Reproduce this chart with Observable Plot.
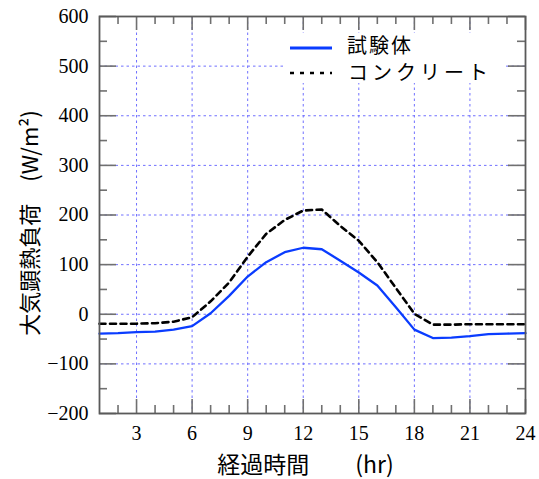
<!DOCTYPE html>
<html><head><meta charset="utf-8">
<script src="https://cdn.jsdelivr.net/npm/d3@7"></script>
<script src="https://cdn.jsdelivr.net/npm/@observablehq/plot@0.6"></script>
<style>body{margin:0;background:#fff}</style>
</head><body><div id="chart"></div>
<script>
// ---- data ----
const hours = [1,2,3,4,5,6,7,8,9,10,11,12,13,14,15,16,17,18,19,20,21,22,23,24];
const specimen = [-39,-38,-36,-35,-31,-24,2,37,76,105,125,134,131,108,84,58,14,-31,-48,-47,-44,-40,-39,-38];
const concrete = [-19,-19,-19,-18,-15,-6,26,64,116,162,190,209,211,178,148,105,53,1,-21,-21,-20,-20,-20,-20];
const seriesNames = ["試験体", "コンクリート"];
const xTicks = [3,6,9,12,15,18,21,24];
const yTicks = [-200,-100,0,100,200,300,400,500,600];
const xLabel = "経過時間　　(hr)";
const yLabel = "大気顕熱負荷　(W/m²)";

// ---- layout ----
const W = 539, H = 479, mL = 99, mR = 14, mT = 16, mB = 66;
const fw = W - mL - mR, fh = H - mT - mB;
const serif = "'Liberation Serif','DejaVu Serif',serif";
const cjk = "'Noto Sans CJK JP',sans-serif";

const specimenRows = hours.map((h, i) => ({hour: h, value: specimen[i]}));
const concreteRows = hours.map((h, i) => ({hour: h, value: concrete[i]}));
const xGrid = xTicks.slice(0, -1);
const yGrid = yTicks.slice(1, -1);
const xMinor = d3.range(2, 24).filter(h => h % 3 !== 0);
const yMinor = d3.range(-150, 600, 100);

const tickStyle = {stroke: "#707070", strokeWidth: 1.6};
const gridStyle = {stroke: "#7070ff", strokeOpacity: 1, strokeWidth: 1, strokeDasharray: "2.5,3"};

const plot = Plot.plot({
  width: W, height: H,
  marginLeft: mL, marginRight: mR, marginTop: mT, marginBottom: mB,
  style: {fontFamily: serif, background: "#fff", color: "#000"},
  x: {domain: [1, 24]},
  y: {domain: [-200, 600]},
  marks: [
    Plot.gridX(xGrid, gridStyle),
    Plot.gridY(yGrid, gridStyle),
    Plot.line(specimenRows, {x: "hour", y: "value", stroke: "#0a3cff", strokeWidth: 2.3}),
    Plot.line(concreteRows, {x: "hour", y: "value", stroke: "#000", strokeWidth: 2.6, strokeDasharray: "6,4.5"}),
    // inward ticks: left / right
    Plot.tickY(yMinor, {y: d => d, ...tickStyle, insetRight: fw - 8}),
    Plot.tickY(yTicks, {y: d => d, ...tickStyle, insetRight: fw - 17}),
    Plot.tickY(yMinor, {y: d => d, ...tickStyle, insetLeft: fw - 8}),
    Plot.tickY(yTicks, {y: d => d, ...tickStyle, insetLeft: fw - 17}),
    // inward ticks: bottom / top
    Plot.tickX(xMinor, {x: d => d, ...tickStyle, insetTop: fh - 8}),
    Plot.tickX(xTicks, {x: d => d, ...tickStyle, insetTop: fh - 14}),
    Plot.tickX(xMinor, {x: d => d, ...tickStyle, insetBottom: fh - 8}),
    Plot.tickX(xTicks, {x: d => d, ...tickStyle, insetBottom: fh - 14}),
    Plot.frame({stroke: "#5a5a5a", strokeWidth: 1.8}),
    Plot.axisY(yTicks, {tickSize: 0, tickPadding: 11, fontSize: 20, label: null}),
    Plot.axisX(xTicks, {tickSize: 0, tickPadding: 12, fontSize: 20, label: null}),
    Plot.text([yLabel], {frameAnchor: "left", textAnchor: "middle", lineAnchor: "middle", rotate: -90, dx: -69, dy: 8, fontSize: 22, fontFamily: cjk}),
    Plot.text([xLabel], {frameAnchor: "bottom", textAnchor: "middle", lineAnchor: "middle", dx: -7, dy: 52, fontSize: 23, fontFamily: cjk})
  ]
});

// ---- legend ----
const svg = d3.select(plot);
const lg = svg.append("g").attr("text-anchor", "start");
lg.append("rect").attr("x", 284).attr("y", 33).attr("width", 221).attr("height", 50).attr("fill", "#fff");
lg.append("line").attr("x1", 290).attr("x2", 332).attr("y1", 48).attr("y2", 48)
  .attr("stroke", "#0a3cff").attr("stroke-width", 3);
lg.append("line").attr("x1", 290).attr("x2", 332).attr("y1", 73).attr("y2", 73)
  .attr("stroke", "#000").attr("stroke-width", 2.6).attr("stroke-dasharray", "4,6");
lg.append("text").attr("x", 347).attr("y", 46).attr("dy", "0.36em").attr("text-anchor", "start")
  .attr("font-family", cjk).attr("font-size", 20).attr("letter-spacing", 2).text(seriesNames[0]);
lg.append("text").attr("x", 348).attr("y", 73).attr("dy", "0.36em").attr("text-anchor", "start")
  .attr("font-family", cjk).attr("font-size", 20).attr("letter-spacing", 4).text(seriesNames[1]);

document.getElementById("chart").appendChild(plot);
</script>
</body></html>
